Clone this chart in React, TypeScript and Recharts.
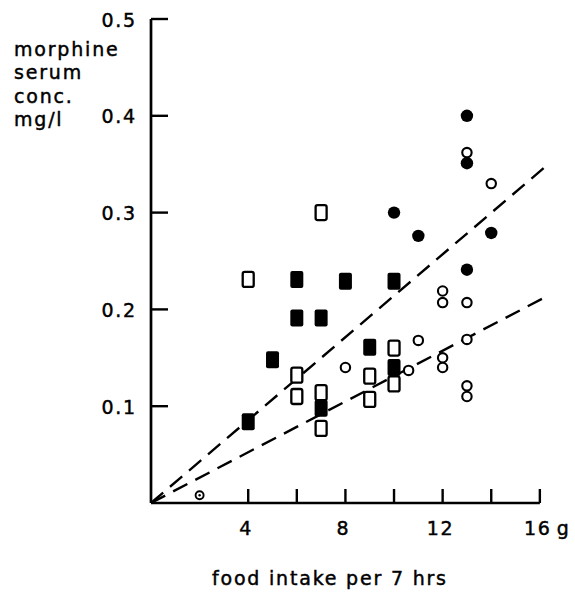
import React from "react";
import { ScatterChart, Scatter, XAxis, YAxis, ReferenceLine } from "recharts";

// ---- data ----
const xTicks = [4, 6, 8, 10, 12, 14, 16];
const xTickLabels = [4, 8, 12, 16];
const xUnit = "g";
const yTicks = [0.1, 0.2, 0.3, 0.4, 0.5];

const filledSquares = [
  { x: 4, y: 0.084 },
  { x: 5, y: 0.148 },
  { x: 6, y: 0.231 },
  { x: 6, y: 0.191 },
  { x: 7, y: 0.191 },
  { x: 8, y: 0.229 },
  { x: 9, y: 0.161 },
  { x: 10, y: 0.229 },
  { x: 10, y: 0.14 },
  { x: 7, y: 0.098 },
];

const openSquares = [
  { x: 4, y: 0.231 },
  { x: 7, y: 0.3 },
  { x: 6, y: 0.132 },
  { x: 6, y: 0.11 },
  { x: 7, y: 0.114 },
  { x: 7, y: 0.077 },
  { x: 9, y: 0.131 },
  { x: 9, y: 0.107 },
  { x: 10, y: 0.16 },
  { x: 10, y: 0.123 },
];

const filledCircles = [
  { x: 13, y: 0.4 },
  { x: 13, y: 0.351 },
  { x: 10, y: 0.3 },
  { x: 11, y: 0.276 },
  { x: 14, y: 0.279 },
  { x: 13, y: 0.241 },
];

const openCircles = [
  { x: 13, y: 0.362 },
  { x: 14, y: 0.33 },
  { x: 8, y: 0.14 },
  { x: 11, y: 0.168 },
  { x: 10.6, y: 0.137 },
  { x: 12, y: 0.219 },
  { x: 12, y: 0.207 },
  { x: 13, y: 0.207 },
  { x: 13, y: 0.169 },
  { x: 12, y: 0.15 },
  { x: 12, y: 0.14 },
  { x: 13, y: 0.121 },
  { x: 13, y: 0.11 },
];

const smallCircles = [{ x: 2, y: 0.008 }];

const upperLine = [
  { x: 0, y: 0 },
  { x: 16.3, y: 0.349 },
];
const lowerLine = [
  { x: 0, y: 0 },
  { x: 16.4, y: 0.215 },
];
const xAxisSegment = [
  { x: 0, y: 0 },
  { x: 16, y: 0 },
];

const yTitleLines = ["morphine", "serum", "conc.", "mg/l"];
const xTitle = "food intake per 7 hrs";

// ---- styles ----
const FONT = "DejaVu Sans";
const FS = 19;
const LS = 1.8;
const TXT = { fontFamily: FONT, fontSize: FS, letterSpacing: LS, fill: "#000", stroke: "#000", strokeWidth: 0.45 };

const XTick = (props: any) => {
  const { x, y, payload } = props;
  const v = payload.value;
  const show = xTickLabels.includes(v);
  const isLast = v === xTickLabels[xTickLabels.length - 1];
  return (
    <g>
      <line x1={x} y1={y} x2={x} y2={y - 14} stroke="#000" strokeWidth={2.4} />
      {show && (
        <text x={x - 2} y={y + 32} textAnchor="middle" {...TXT}>
          {v}
        </text>
      )}
      {show && isLast && (
        <text x={x + 17} y={y + 32} textAnchor="start" {...TXT}>
          {xUnit}
        </text>
      )}
    </g>
  );
};

const YTick = (props: any) => {
  const { x, y, payload } = props;
  return (
    <g>
      <line x1={x} y1={y} x2={x + 17} y2={y} stroke="#000" strokeWidth={2.4} />
      <text x={x - 14} y={y + 7.5} textAnchor="end" {...TXT}>
        {Number(payload.value).toFixed(1)}
      </text>
    </g>
  );
};

const FilledSquare = (p: any) => (
  <rect x={p.cx - 6.5} y={p.cy - 8.5} width={13} height={17} rx={2} fill="#000" />
);
const OpenSquare = (p: any) => (
  <rect
    x={p.cx - 5.5}
    y={p.cy - 7.5}
    width={11}
    height={15}
    rx={2}
    fill="#fff"
    stroke="#000"
    strokeWidth={2.3}
  />
);
const FilledCircle = (p: any) => <circle cx={p.cx} cy={p.cy} r={6.2} fill="#000" />;
const OpenCircle = (p: any) => (
  <circle cx={p.cx} cy={p.cy} r={4.7} fill="#fff" stroke="#000" strokeWidth={2.1} />
);
const SmallCircle = (p: any) => (
  <g>
    <circle cx={p.cx} cy={p.cy} r={4} fill="#fff" stroke="#000" strokeWidth={1.9} />
    <circle cx={p.cx} cy={p.cy} r={1.2} fill="#000" />
  </g>
);

export default function App() {
  return (
    <div style={{ position: "absolute", left: 0, top: 0, width: 575, height: 596, background: "#fff" }}>
      <ScatterChart
        width={575}
        height={596}
        margin={{ top: 19, right: 23, bottom: 53, left: 91 }}
      >
        <XAxis
          type="number"
          dataKey="x"
          domain={[0, 16.5]}
          ticks={xTicks}
          interval={0}
          tickSize={0}
          tickMargin={0}
          axisLine={false}
          tickLine={false}
          tick={<XTick />}
          height={40}
        />
        <YAxis
          type="number"
          dataKey="y"
          domain={[0, 0.5]}
          ticks={yTicks}
          interval={0}
          tickSize={0}
          tickMargin={0}
          axisLine={{ stroke: "#000", strokeWidth: 2.7 }}
          tickLine={false}
          tick={<YTick />}
          width={60}
        />
        <ReferenceLine segment={xAxisSegment} stroke="#000" strokeWidth={2.7} />
        <ReferenceLine
          segment={upperLine}
          stroke="#000"
          strokeWidth={2.4}
          strokeDasharray="16 9"
          ifOverflow="visible"
        />
        <ReferenceLine
          segment={lowerLine}
          stroke="#000"
          strokeWidth={2.4}
          strokeDasharray="16 9"
          ifOverflow="visible"
        />
        <Scatter data={openSquares} shape={OpenSquare} isAnimationActive={false} />
        <Scatter data={filledSquares} shape={FilledSquare} isAnimationActive={false} />
        <Scatter data={openCircles} shape={OpenCircle} isAnimationActive={false} />
        <Scatter data={filledCircles} shape={FilledCircle} isAnimationActive={false} />
        <Scatter data={smallCircles} shape={SmallCircle} isAnimationActive={false} />
      </ScatterChart>
      <svg
        width={575}
        height={596}
        style={{ position: "absolute", left: 0, top: 0, pointerEvents: "none" }}
      >
        {yTitleLines.map((t, i) => (
          <text key={t} x={14} y={56 + i * 23.4} {...TXT}>
            {t}
          </text>
        ))}
        <text x={212} y={585} {...TXT}>
          {xTitle}
        </text>
      </svg>
    </div>
  );
}
